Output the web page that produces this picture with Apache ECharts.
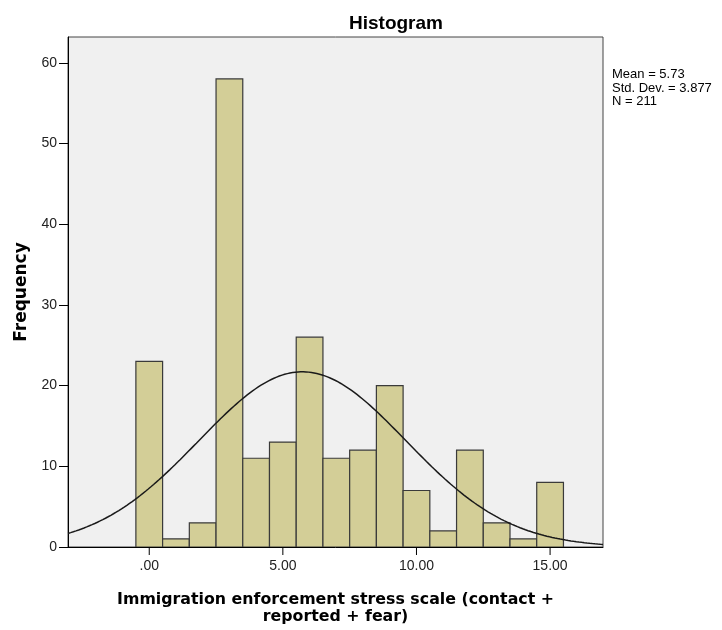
<!DOCTYPE html>
<html><head><meta charset="utf-8">
<script src="https://cdn.jsdelivr.net/npm/echarts@6/dist/echarts.min.js"></script>
<style>html,body{margin:0;padding:0;background:#fff}#c{width:722px;height:630px}</style>
</head><body><div id="c"></div>
<script>
var binCenters = [0,1,2,3,4,5,6,7,8,9,10,11,12,13,14,15];
var frequencies = [23,1,3,58,11,13,26,11,12,20,7,2,12,3,1,8];
var xTickValues = [0,5,10,15];
var yTickValues = [0,10,20,30,40,50,60];
var statMean = 5.73, statSD = 3.877, statN = 211, binWidth = 1;
var xMin = -3.04, xMax = 16.98, yMax = 63.2;

var barData = binCenters.map(function(c,i){return [c, frequencies[i]];});
var curve = [];
var steps = 200;
for (var k=0;k<=steps;k++){
  var x = xMin + (xMax-xMin)*k/steps;
  var z = (x-statMean)/statSD;
  curve.push([x, statN*binWidth/(statSD*Math.sqrt(2*Math.PI))*Math.exp(-0.5*z*z)]);
}
var SANS = 'Liberation Sans, Arial, sans-serif';
var BOLDF = 'DejaVu Sans, Verdana, sans-serif';
var chart = echarts.init(document.getElementById('c'));
chart.setOption({
  backgroundColor:'#fff',
  animation:false,
  textStyle:{fontFamily:SANS},
  title:{text:'Histogram',left:344,top:9,textStyle:{fontSize:19,fontWeight:'bold',color:'#000',fontFamily:SANS}},
  graphic:[{type:'text',left:612,top:68,style:{text:'Mean = 5.73\nStd. Dev. = 3.877\nN = 211',fontSize:13,lineHeight:13.5,fill:'#000',fontFamily:SANS}}],
  grid:{left:68,top:37,width:535,height:511.5,show:true,backgroundColor:'#f0f0f0',borderColor:'#444',borderWidth:1},
  xAxis:{type:'value',min:xMin,max:xMax,
    name:'Immigration enforcement stress scale (contact +\nreported + fear)',nameLocation:'middle',nameGap:44,
    nameTextStyle:{fontSize:15.8,fontWeight:'bold',color:'#000',lineHeight:17,fontFamily:BOLDF},
    axisLine:{onZero:false,lineStyle:{color:'#000',width:1}},
    axisTick:{show:false},
    axisLabel:{color:'#222',fontSize:14,margin:12.5,customValues:xTickValues,formatter:function(v){var s=v.toFixed(2);return s.charAt(0)==='0'?s.slice(1):s;}},
    splitLine:{show:false}},
  yAxis:{type:'value',min:0,max:yMax,
    name:'Frequency',nameLocation:'middle',nameGap:38,nameTextStyle:{fontSize:17,fontWeight:'bold',color:'#000',fontFamily:BOLDF},
    axisLine:{show:true,onZero:false,lineStyle:{color:'#000',width:1}},
    axisTick:{show:true,inside:false,length:9,lineStyle:{color:'#000',width:1},customValues:yTickValues},
    axisLabel:{color:'#222',fontSize:14,margin:11,customValues:yTickValues},
    splitLine:{show:false}},
  series:[
    {type:'custom',data:barData,clip:true,renderItem:function(params,api){
      var c=api.value(0),v=api.value(1);
      var p0=api.coord([c-binWidth/2,0]),p1=api.coord([c+binWidth/2,v]);
      return {type:'rect',shape:{x:p0[0],y:p1[1],width:p1[0]-p0[0],height:p0[1]-p1[1]},
        style:{fill:'#d3ce97',stroke:'#3a3a3a',lineWidth:1.2}};
    }},
    {type:'line',data:curve,showSymbol:false,smooth:false,lineStyle:{color:'#1a1a1a',width:1.5},z:5},
    {type:'custom',data:xTickValues.map(function(v){return [v,0];}),clip:false,z:6,renderItem:function(params,api){
      var p=api.coord([api.value(0),0]);
      return {type:'line',shape:{x1:p[0],y1:p[1],x2:p[0],y2:p[1]+8},style:{stroke:'#000',lineWidth:1}};
    }}
  ]
});
</script></body></html>
